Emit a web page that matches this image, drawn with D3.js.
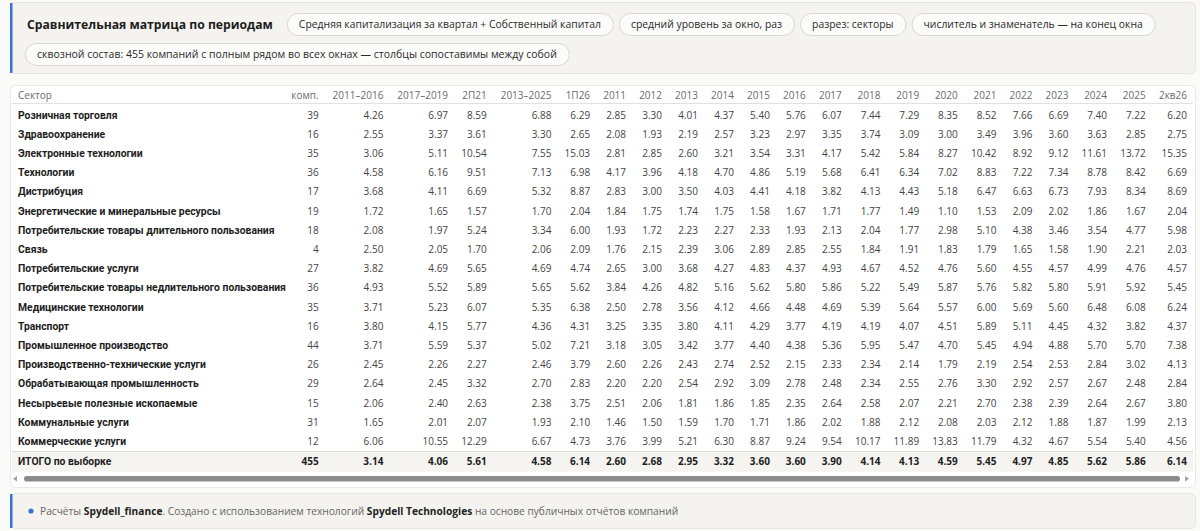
<!DOCTYPE html>
<html><head><meta charset="utf-8">
<script src="https://cdn.jsdelivr.net/npm/d3@7/dist/d3.min.js"></script>
<style>
html,body{margin:0;padding:0;background:#fafaf9;}
svg{display:block;font-family:"Open Sans","Noto Sans",sans-serif;}
</style></head>
<body>
<svg id="chart" width="1200" height="531"></svg>
<script>
// ---------- DATA ----------
const title = "Сравнительная матрица по периодам";
const pillsRow1 = ["Средняя капитализация за квартал + Собственный капитал", "средний уровень за окно, раз", "разрез: секторы", "числитель и знаменатель — на конец окна"];
const pillsRow2 = ["сквозной состав: 455 компаний с полным рядом во всех окнах — столбцы сопоставимы между собой"];
const headerSector = "Сектор";
const headerCompanies = "комп.";
const periods = ["2011–2016","2017–2019","2П21","2013–2025","1П26","2011","2012","2013","2014","2015","2016","2017","2018","2019","2020","2021","2022","2023","2024","2025","2кв26"];
const sectors = ["Розничная торговля","Здравоохранение","Электронные технологии","Технологии","Дистрибуция","Энергетические и минеральные ресурсы","Потребительские товары длительного пользования","Связь","Потребительские услуги","Потребительские товары недлительного пользования","Медицинские технологии","Транспорт","Промышленное производство","Производственно-технические услуги","Обрабатывающая промышленность","Несырьевые полезные ископаемые","Коммунальные услуги","Коммерческие услуги"];
const companies = [39,16,35,36,17,19,18,4,27,36,35,16,44,26,29,15,31,12];
const values = [
 [4.26,6.97,8.59,6.88,6.29,2.85,3.30,4.01,4.37,5.40,5.76,6.07,7.44,7.29,8.35,8.52,7.66,6.69,7.40,7.22,6.20],
 [2.55,3.37,3.61,3.30,2.65,2.08,1.93,2.19,2.57,3.23,2.97,3.35,3.74,3.09,3.00,3.49,3.96,3.60,3.63,2.85,2.75],
 [3.06,5.11,10.54,7.55,15.03,2.81,2.85,2.60,3.21,3.54,3.31,4.17,5.42,5.84,8.27,10.42,8.92,9.12,11.61,13.72,15.35],
 [4.58,6.16,9.51,7.13,6.98,4.17,3.96,4.18,4.70,4.86,5.19,5.68,6.41,6.34,7.02,8.83,7.22,7.34,8.78,8.42,6.69],
 [3.68,4.11,6.69,5.32,8.87,2.83,3.00,3.50,4.03,4.41,4.18,3.82,4.13,4.43,5.18,6.47,6.63,6.73,7.93,8.34,8.69],
 [1.72,1.65,1.57,1.70,2.04,1.84,1.75,1.74,1.75,1.58,1.67,1.71,1.77,1.49,1.10,1.53,2.09,2.02,1.86,1.67,2.04],
 [2.08,1.97,5.24,3.34,6.00,1.93,1.72,2.23,2.27,2.33,1.93,2.13,2.04,1.77,2.98,5.10,4.38,3.46,3.54,4.77,5.98],
 [2.50,2.05,1.70,2.06,2.09,1.76,2.15,2.39,3.06,2.89,2.85,2.55,1.84,1.91,1.83,1.79,1.65,1.58,1.90,2.21,2.03],
 [3.82,4.69,5.65,4.69,4.74,2.65,3.00,3.68,4.27,4.83,4.37,4.93,4.67,4.52,4.76,5.60,4.55,4.57,4.99,4.76,4.57],
 [4.93,5.52,5.89,5.65,5.62,3.84,4.26,4.82,5.16,5.62,5.80,5.86,5.22,5.49,5.87,5.76,5.82,5.80,5.91,5.92,5.45],
 [3.71,5.23,6.07,5.35,6.38,2.50,2.78,3.56,4.12,4.66,4.48,4.69,5.39,5.64,5.57,6.00,5.69,5.60,6.48,6.08,6.24],
 [3.80,4.15,5.77,4.36,4.31,3.25,3.35,3.80,4.11,4.29,3.77,4.19,4.19,4.07,4.51,5.89,5.11,4.45,4.32,3.82,4.37],
 [3.71,5.59,5.37,5.02,7.21,3.18,3.05,3.42,3.77,4.40,4.38,5.36,5.95,5.47,4.70,5.45,4.94,4.88,5.70,5.70,7.38],
 [2.45,2.26,2.27,2.46,3.79,2.60,2.26,2.43,2.74,2.52,2.15,2.33,2.34,2.14,1.79,2.19,2.54,2.53,2.84,3.02,4.13],
 [2.64,2.45,3.32,2.70,2.83,2.20,2.20,2.54,2.92,3.09,2.78,2.48,2.34,2.55,2.76,3.30,2.92,2.57,2.67,2.48,2.84],
 [2.06,2.40,2.63,2.38,3.75,2.51,2.06,1.81,1.86,1.85,2.35,2.64,2.58,2.07,2.21,2.70,2.38,2.39,2.64,2.67,3.80],
 [1.65,2.01,2.07,1.93,2.10,1.46,1.50,1.59,1.70,1.71,1.86,2.02,1.88,2.12,2.08,2.03,2.12,1.88,1.87,1.99,2.13],
 [6.06,10.55,12.29,6.67,4.73,3.76,3.99,5.21,6.30,8.87,9.24,9.54,10.17,11.89,13.83,11.79,4.32,4.67,5.54,5.40,4.56]
];
const totalLabel = "ИТОГО по выборке";
const totalCompanies = 455;
const totalValues = [3.14,4.06,5.61,4.58,6.14,2.60,2.68,2.95,3.32,3.60,3.60,3.90,4.14,4.13,4.59,5.45,4.97,4.85,5.62,5.86,6.14];
const footerParts = [
  {t:"Расчёты ", b:false},{t:"Spydell_finance", b:true},{t:". Создано с использованием технологий ", b:false},
  {t:"Spydell Technologies", b:true},{t:" на основе публичных отчётов компаний", b:false}
];

// ---------- DRAW ----------
const svg = d3.select("#chart");
const BLUE = "#3d6fd6";
const fmt = d3.format(".2f");
const LABEL_FONT = "Roboto, 'Open Sans', sans-serif";

// header card
svg.append("rect").attr("x",10.5).attr("y",2.5).attr("width",1185).attr("height",71).attr("rx",5)
  .attr("fill","#f4f3f0").attr("stroke","#e7e5e1");
svg.append("rect").attr("x",10).attr("y",3).attr("width",2.5).attr("height",70).attr("fill",BLUE);

const titleT = svg.append("text").attr("x",27).attr("y",25).attr("dy","0.35em")
  .attr("font-size",12.2).attr("font-weight",700).attr("fill","#1d1d1d").text(title);

function drawPills(list, x0, yTop, fs){
  let x = x0;
  list.forEach(p=>{
    const g = svg.append("g");
    const t = g.append("text").attr("font-size",fs).attr("fill","#2b2b2b").attr("dy","0.35em")
      .attr("y", yTop+11).text(p);
    const w = t.node().getComputedTextLength();
    const pw = w + 24;
    g.insert("rect","text").attr("x",x+0.5).attr("y",yTop+0.5).attr("width",pw).attr("height",22).attr("rx",11)
      .attr("fill","#fbfbfa").attr("stroke","#d9d7d2");
    t.attr("x", x+12);
    x += pw + 6;
  });
}
const titleW = titleT.node().getComputedTextLength();
drawPills(pillsRow1, 27 + titleW + 14, 13, 10.4);
drawPills(pillsRow2, 25, 43, 10.5);

// table card
svg.append("rect").attr("x",10.5).attr("y",85.5).attr("width",1185).attr("height",402).attr("rx",5)
  .attr("fill","#ffffff").attr("stroke","#ebe9e5");

// columns measurement
const cellFs = 10;
const meas = svg.append("g").attr("visibility","hidden");
function tw(s, fs, bold, fam){
  const t = meas.append("text").attr("font-size",fs).attr("font-weight",bold?700:400).text(s);
  if (fam) t.attr("font-family", fam);
  const w = t.node().getComputedTextLength(); t.remove(); return w;
}
// fit label font so the longest sector name spans the reference width
const labelRef = d3.max(sectors, s=>tw(s,10.5,true,LABEL_FONT));
const labelFs = Math.min(10.8, 10.5 * 268 / labelRef);

const colW = [];
colW.push(Math.max(tw(headerSector,cellFs,false), d3.max(sectors,s=>tw(s,labelFs,true,LABEL_FONT))) + 4);
colW.push(Math.max(tw(headerCompanies,cellFs,false), d3.max(companies,c=>tw(String(c),cellFs,false)), tw(String(totalCompanies),cellFs,true)) + 4);
periods.forEach((p,i)=>{
  colW.push(Math.max(tw(p,cellFs,false), d3.max(values,r=>tw(fmt(r[i]),cellFs,false)), tw(fmt(totalValues[i]),cellFs,true)) + 12);
});
meas.remove();
const edges = [0]; colW.forEach(w=>edges.push(edges[edges.length-1]+w));
const xs = d3.scaleLinear().domain([0, edges[edges.length-1]]).range([12, 1193]);
const colLeft = i => xs(edges[i]);
const colRight = i => xs(edges[i+1]);

// rows
const rowKeys = sectors.concat([totalLabel]);
const y = d3.scaleBand().domain(rowKeys).range([105.4, 105.4 + 19.2*rowKeys.length]);
const yc = k => y(k) + y.bandwidth()/2;

// header row
const hy = 95;
const headers = [headerSector, headerCompanies].concat(periods);
svg.append("g").selectAll("text").data(headers).join("text")
  .attr("x",(d,i)=> i===0 ? colLeft(0)+6 : colRight(i)-6)
  .attr("text-anchor",(d,i)=> i===0?"start":"end")
  .attr("y",hy).attr("dy","0.35em").attr("font-size",cellFs).attr("fill","#6b6b6b").text(d=>d);
svg.append("line").attr("x1",12).attr("x2",1193).attr("y1",103.5).attr("y2",103.5).attr("stroke","#e3e1dd");

// total row background
const ty = y(totalLabel);
svg.append("rect").attr("x",12).attr("y",ty+0.5).attr("width",1181).attr("height",y.bandwidth()+1).attr("fill","#f5f4f1");
svg.append("line").attr("x1",12).attr("x2",1193).attr("y1",ty+0.5).attr("y2",ty+0.5).attr("stroke","#dedcd7");

// body rows
const body = svg.append("g");
const rowsData = sectors.map((s,i)=>({label:s, comp:companies[i], vals:values[i], total:false}))
  .concat([{label:totalLabel, comp:totalCompanies, vals:totalValues, total:true}]);
const rg = body.selectAll("g.row").data(rowsData).join("g").attr("class","row")
  .attr("transform", d=>`translate(0,${yc(d.label) + (d.total?1:0)})`);
rg.append("text").attr("x",colLeft(0)+6).attr("dy","0.35em").attr("font-size",labelFs).attr("font-weight",700)
  .attr("font-family",LABEL_FONT).attr("fill","#1e1e1e").text(d=>d.label);
rg.append("text").attr("x",colRight(1)-6).attr("text-anchor","end").attr("dy","0.35em").attr("font-size",cellFs)
  .attr("font-weight",d=>d.total?700:400).attr("fill",d=>d.total?"#1e1e1e":"#444").text(d=>d.comp);
rg.selectAll("text.v").data(d=>d.vals.map((v,i)=>({v,i,total:d.total}))).join("text").attr("class","v")
  .attr("x",d=>colRight(d.i+2)-6).attr("text-anchor","end").attr("dy","0.35em").attr("font-size",cellFs)
  .attr("font-weight",d=>d.total?700:400).attr("fill",d=>d.total?"#1e1e1e":"#444").text(d=>fmt(d.v));

// scrollbar
svg.append("path").attr("d","M13,478.8 L17,476 L17,481.6 Z").attr("fill","#a0a0a0");
svg.append("path").attr("d","M1189,478.8 L1185,476 L1185,481.6 Z").attr("fill","#a0a0a0");
svg.append("rect").attr("x",24).attr("y",476).attr("width",1156).attr("height",5.6).attr("rx",2.8).attr("fill","#8b8b8b");

// footer card
svg.append("rect").attr("x",10.5).attr("y",493.5).attr("width",1185).attr("height",35).attr("rx",5)
  .attr("fill","#f4f3f0").attr("stroke","#e7e5e1");
svg.append("rect").attr("x",10).attr("y",494).attr("width",2.5).attr("height",34).attr("fill",BLUE);
svg.append("circle").attr("cx",31).attr("cy",511).attr("r",2.6).attr("fill",BLUE);
const ft = svg.append("text").attr("x",40).attr("y",511).attr("dy","0.35em").attr("font-size",10.2).attr("fill","#666");
ft.selectAll("tspan").data(footerParts).join("tspan").attr("font-weight",d=>d.b?700:400)
  .attr("fill",d=>d.b?"#222":"#666").text(d=>d.t);
</script>
</body></html>
